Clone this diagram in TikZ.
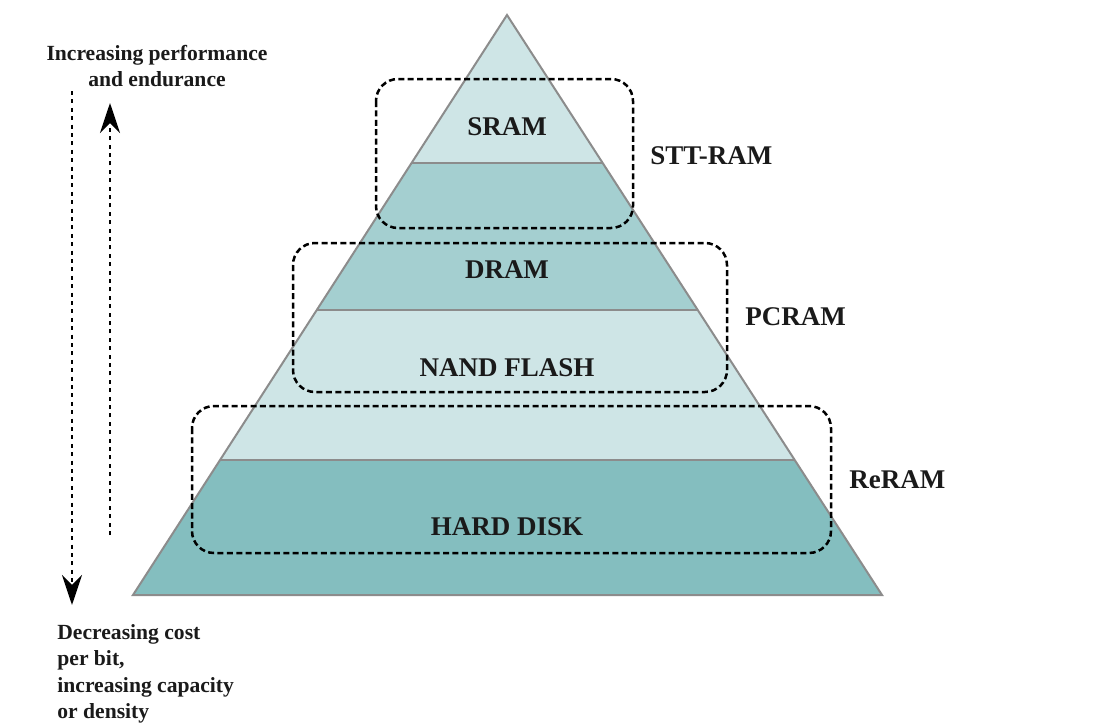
\documentclass[tikz,border=0pt]{standalone}
\usepackage{fontspec}
\setmainfont{Liberation Serif}
\usetikzlibrary{arrows.meta,calc}
\definecolor{bandlight}{RGB}{206,229,230}
\definecolor{bandmid}{RGB}{164,207,208}
\definecolor{banddark}{RGB}{132,190,191}
\definecolor{edgegray}{RGB}{140,140,140}
\definecolor{inkblack}{RGB}{26,26,26}
\tikzset{
  layerlabel/.style={font=\fontsize{13.5pt}{16pt}\selectfont\bfseries, text=inkblack, inner sep=0pt},
  techlabel/.style={font=\fontsize{13.5pt}{16pt}\selectfont\bfseries, text=inkblack, inner sep=0pt, anchor=west},
  sidelabel/.style={font=\fontsize{10.8pt}{13.2pt}\selectfont\bfseries, text=inkblack, inner sep=0pt},
  groupbox/.style={draw=black, line width=1.25pt, dash pattern=on 3pt off 1.7pt, rounded corners=11pt},
  trendarrow/.style={draw=black, line width=1.4pt, dash pattern=on 2pt off 2.2pt,
    -{Stealth[length=15pt,width=10pt,inset=5pt]}},
  edge/.style={draw=edgegray, line width=1pt}
}
\begin{document}
\begin{tikzpicture}[x=0.5pt,y=-0.5pt]
\useasboundingbox (0,0) rectangle (1094,728);
% pyramid corners
\coordinate (apex) at (507,15);
\coordinate (bl) at (133,595);
\coordinate (br) at (882,595);
\coordinate (l1) at ($(apex)!0.2552!(bl)$);
\coordinate (r1) at ($(apex)!0.2552!(br)$);
\coordinate (l2) at ($(apex)!0.5086!(bl)$);
\coordinate (r2) at ($(apex)!0.5086!(br)$);
\coordinate (l3) at ($(apex)!0.7672!(bl)$);
\coordinate (r3) at ($(apex)!0.7672!(br)$);
% bands
\fill[bandlight] (apex) -- (l1) -- (r1) -- cycle;
\fill[bandmid] (l1) -- (l2) -- (r2) -- (r1) -- cycle;
\fill[bandlight] (l2) -- (l3) -- (r3) -- (r2) -- cycle;
\fill[banddark] (l3) -- (bl) -- (br) -- (r3) -- cycle;
\draw[edge] (l1) -- (r1);
\draw[edge] (l2) -- (r2);
\draw[edge] (l3) -- (r3);
\draw[edge, line join=miter] (apex) -- (bl) -- (br) -- cycle;
% layer labels
\node[layerlabel] (sram) at (507,127) {SRAM};
\node[layerlabel] (dram) at (507,270) {DRAM};
\node[layerlabel] (nand) at (507,368) {NAND FLASH};
\node[layerlabel] (hdd) at (507,527) {HARD DISK};
% dashed groups
\draw[groupbox] (376,79) rectangle (633,228);
\draw[groupbox] (293,243) rectangle (727,392);
\draw[groupbox] (192,406) rectangle (831,553);
\node[techlabel] (stt) at (650,156) {STT-RAM};
\node[techlabel] (pcram) at (745,317) {PCRAM};
\node[techlabel] (reram) at (849,480) {ReRAM};
% side arrows
\coordinate (downtop) at (72,91);
\coordinate (downtip) at (72,605);
\coordinate (upbot) at (110,535);
\coordinate (uptip) at (110,103);
\draw[trendarrow] (downtop) -- (downtip);
\draw[trendarrow] (upbot) -- (uptip);
% side texts
\node[sidelabel, align=center] (perf) at (157,66) {Increasing performance\\and endurance};
\node[sidelabel, align=left, anchor=north west] (cost) at (57,624) {Decreasing cost\\per bit,\\increasing capacity\\or density};
\end{tikzpicture}
\end{document}
